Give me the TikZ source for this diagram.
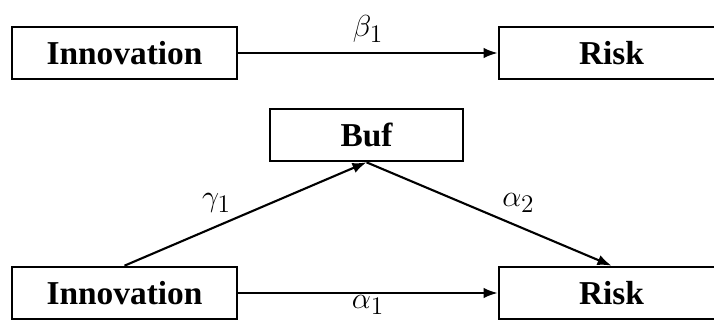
\documentclass[tikz,border=0pt]{standalone}
\usepackage{fontspec}
\setmainfont{Liberation Serif}
\usetikzlibrary{arrows.meta, positioning}

\begin{document}
\begin{tikzpicture}[
  x=0.02cm, y=-0.02cm,
  vbox/.style={rectangle, draw=black, line width=1.5pt, fill=white,
               minimum width=4.5cm, minimum height=1.04cm, inner sep=0pt,
               font=\fontsize{19}{22}\selectfont\bfseries},
  mbox/.style={vbox, minimum width=3.86cm},
  arr/.style={draw, line width=1.2pt, -{Latex[length=8pt, width=6pt]}},
  elbl/.style={font=\fontsize{19}{22}\selectfont}
]

%% 圖框（右側 Risk 框被裁切）
\useasboundingbox (0,0) rectangle (714,320);

%% 上：總效應
\node[vbox] (inno1) at (124.5, 53) {Innovation};
\node[vbox] (risk1) at (611.5, 53) {Risk};

\draw[arr] (inno1.east) -- (risk1.west) node[midway, above=2pt, elbl] {$\beta_1$};

%% 下：中介效應
\node[mbox] (buf)   at (366.5, 135) {Buf};
\node[vbox] (inno2) at (124.5, 293) {Innovation};
\node[vbox] (risk2) at (611.5, 293) {Risk};

\draw[arr] (inno2.north) -- (buf.south)   node[pos=0.38, above=4pt, elbl] {$\gamma_1$};
\draw[arr] (buf.south)   -- (risk2.north) node[pos=0.62, above=4pt, elbl] {$\alpha_2$};
\draw[arr] (inno2.east)  -- (risk2.west)  node[midway, below=0pt, inner sep=1pt, elbl] {$\alpha_1$};

\end{tikzpicture}
\end{document}
